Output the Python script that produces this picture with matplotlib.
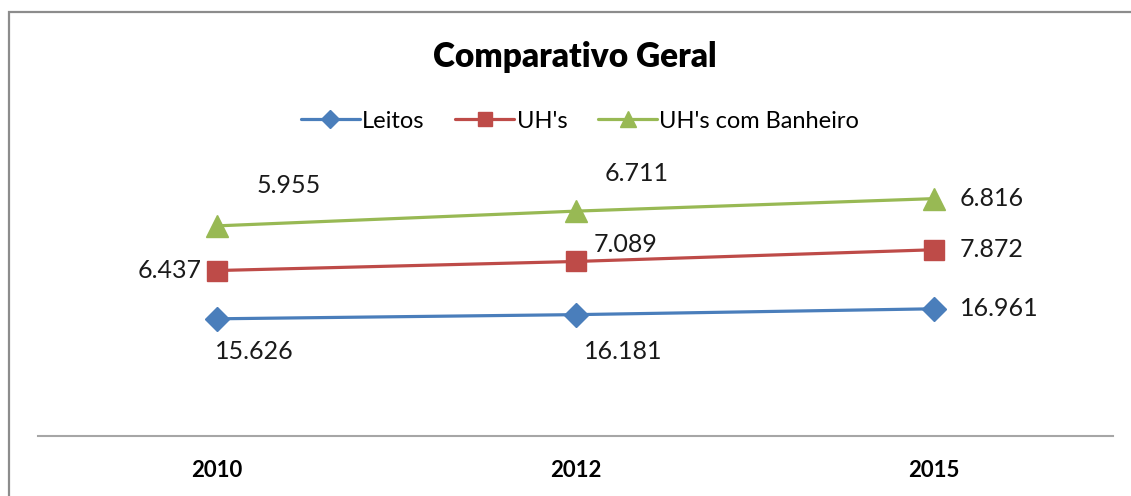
import matplotlib
matplotlib.use('Agg')
import matplotlib.pyplot as plt
from matplotlib.patches import Rectangle
import numpy as np

# dados do gráfico (linhas empilhadas, rótulos com o valor de cada série)
anos = ['2010', '2012', '2015']
leitos = [15626, 16181, 16961]
uhs = [6437, 7089, 7872]
uhs_banheiro = [5955, 6711, 6816]

W, H = 1131, 496
plt.rcParams['font.family'] = ['Lato', 'DejaVu Sans']

fig = plt.figure(figsize=(W / 100, H / 100), dpi=100)
ax = fig.add_axes([38 / W, 1 - 436 / H, (1113 - 38) / W, 300 / H])

# moldura cinza do gráfico (cortada à direita e embaixo)
fig.add_artist(Rectangle((8.5 / W, -0.1), 1.2, 1 - 11.5 / H + 0.1, transform=fig.transFigure,
                         fill=False, edgecolor='#8c8c8c', linewidth=1.6))

x = np.arange(len(anos))
s1 = np.array(leitos)
s2 = s1 + np.array(uhs)
s3 = s2 + np.array(uhs_banheiro)

series = [
    ('Leitos', s1, leitos, '#4a7ebb', 'D', 12.5),
    ("UH's", s2, uhs, '#be4b48', 's', 14),
    ("UH's com Banheiro", s3, uhs_banheiro, '#98b954', '^', 16),
]
for nome, ys, vals, cor, mk, ms in series:
    ax.plot(x, ys, color=cor, linewidth=2.3, marker=mk, markersize=ms,
            markeredgecolor=cor, label=nome, solid_capstyle='round')

# posição dos rótulos (em pixels, relativa ao ponto)
offsets = [
    [(37, -33, 'center'), (48, -37, 'center'), (26, 0, 'left')],
    [(-16, 0, 'right'), (50, 17, 'center'), (26, 0, 'left')],
    [(72, 40, 'center'), (61, 38, 'center'), (26, 0, 'left')],
]
for k, (nome, ys, vals, cor, mk, ms) in enumerate(series):
    for i in range(len(anos)):
        dx, dy, ha = offsets[k][i]
        txt = '{:,}'.format(vals[i]).replace(',', '.')
        ax.annotate(txt, (x[i], ys[i]), xytext=(dx, dy), textcoords='offset pixels',
                    ha=ha, va='center', fontsize=18, color='#1a1a1a')

ax.set_xlim(-0.5, 2.5)
ax.set_ylim(0, 40000)
ax.set_xticks(x)
ax.set_xticklabels(anos, fontsize=16, fontweight='bold')
ax.tick_params(axis='x', length=0, pad=17)
ax.set_yticks([])
for s in ['top', 'left', 'right']:
    ax.spines[s].set_visible(False)
ax.spines['bottom'].set_color('#a6a6a6')
ax.spines['bottom'].set_linewidth(1.5)

fig.text(575 / W, 1 - 57 / H, 'Comparativo Geral', ha='center', va='center',
         fontsize=24, fontweight='heavy')

fig.legend(loc='center', bbox_to_anchor=(580 / W, 1 - 121 / H), ncol=3, frameon=False,
           fontsize=17, handlelength=2.5, handletextpad=0.1, columnspacing=1.3,
           markerscale=0.75)

fig.savefig('out.png', dpi=100)
